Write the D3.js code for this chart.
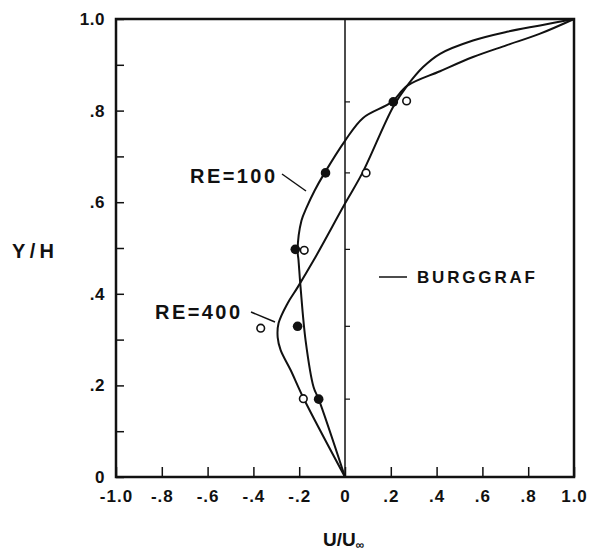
<html>
<head>
<script src="https://d3js.org/d3.v7.min.js" charset="utf-8"></script>
<style>
  body { margin:0; background:#fff; }
  svg text { font-family:"Liberation Sans", Arial, sans-serif; font-weight:bold; fill:#111; }
</style>
</head>
<body>
<div id="graph"></div>
<script>
// RE=100 curve (Burggraf), U/Uinf vs Y/H
const re100U = [0, -0.115, -0.137, -0.172, -0.194, -0.203, -0.207, -0.19, -0.168, -0.133, -0.089, 0, 0.079, 0.205, 0.271, 0.415, 0.559, 0.707, 0.852, 1];
const re100V = [0, 0.17, 0.196, 0.298, 0.414, 0.473, 0.495, 0.56, 0.588, 0.625, 0.664, 0.734, 0.784, 0.819, 0.854, 0.886, 0.917, 0.943, 0.968, 1];
// RE=400 curve
const re400U = [0, -0.181, -0.237, -0.281, -0.294, -0.29, -0.251, -0.207, -0.137, 0, 0.076, 0.21, 0.271, 0.341, 0.415, 0.559, 0.707, 0.852, 1];
const re400V = [0, 0.172, 0.233, 0.277, 0.305, 0.336, 0.379, 0.414, 0.473, 0.597, 0.664, 0.808, 0.854, 0.895, 0.924, 0.953, 0.972, 0.986, 1];
// measured points
const filledU = [-0.115, -0.207, -0.217, -0.085, 0.211];
const filledV = [0.17, 0.329, 0.497, 0.664, 0.819];
const openU = [-0.182, -0.368, -0.178, 0.092, 0.269];
const openV = [0.171, 0.325, 0.495, 0.664, 0.821];
// axis ticks
const xTicks = [-1, -0.8, -0.6, -0.4, -0.2, 0, 0.2, 0.4, 0.6, 0.8, 1];
const xTickLabels = ["-1.0", "-.8", "-.6", "-.4", "-.2", "0", ".2", ".4", ".6", ".8", "1.0"];
const yTicks = [0, 0.1, 0.2, 0.3, 0.4, 0.5, 0.6, 0.7, 0.8, 0.9, 1];
const yTickLabels = ["0", "", ".2", "", ".4", "", ".6", "", ".8", "", "1.0"];

const w = 595, h = 554;
const padL = 116, padR = 574, padT = 19, padB = 477;

const svg = d3.select('#graph').append('svg').attr('width', w).attr('height', h);

const x = d3.scaleLinear().domain([-1, 1]).range([padL, padR]);
const y = d3.scaleLinear().domain([0, 1]).range([padB, padT]);

// axes
const xAxis = d3.axisBottom(x).tickValues(xTicks)
  .tickSizeInner(-10).tickSizeOuter(0).tickPadding(13)
  .tickFormat((d, i) => xTickLabels[i]);
const gx = svg.append('g').attr('transform', 'translate(0,' + padB + ')').call(xAxis);
gx.select('.domain').remove();
gx.selectAll('line').attr('stroke', '#111').attr('stroke-width', 1.5);
gx.selectAll('text').style('font-size', '17px').style('letter-spacing', '1px').attr('fill', '#111');

const yAxis = d3.axisLeft(y).tickValues(yTicks)
  .tickSizeInner(-8).tickSizeOuter(0).tickPadding(11)
  .tickFormat((d, i) => yTickLabels[i]);
const gy = svg.append('g').attr('transform', 'translate(' + padL + ',0)').call(yAxis);
gy.select('.domain').remove();
gy.selectAll('line').attr('stroke', '#111').attr('stroke-width', 1.5);
gy.selectAll('text').style('font-size', '17px').style('letter-spacing', '0.5px').attr('fill', '#111');

// frame
svg.append('rect')
  .attr('x', padL).attr('y', padT)
  .attr('width', padR - padL).attr('height', padB - padT)
  .attr('fill', 'none').attr('stroke', '#111').attr('stroke-width', 2.5);

// zero line with station ticks
svg.append('line')
  .attr('x1', x(0)).attr('x2', x(0)).attr('y1', y(0)).attr('y2', y(1))
  .attr('stroke', '#111').attr('stroke-width', 1.5);
svg.selectAll('.stn').data(filledV).enter().append('line')
  .attr('x1', x(0)).attr('x2', x(0) + 5)
  .attr('y1', d => y(d)).attr('y2', d => y(d))
  .attr('stroke', '#111').attr('stroke-width', 1.2);

// curves
const line = d3.line().x(d => x(d[0])).y(d => y(d[1])).curve(d3.curveCatmullRom.alpha(0.5));
svg.append('path').datum(d3.zip(re100U, re100V)).attr('d', line)
  .attr('fill', 'none').attr('stroke', '#111').attr('stroke-width', 2);
svg.append('path').datum(d3.zip(re400U, re400V)).attr('d', line)
  .attr('fill', 'none').attr('stroke', '#111').attr('stroke-width', 2);

// points
svg.selectAll('.filled').data(d3.zip(filledU, filledV)).enter().append('circle')
  .attr('cx', d => x(d[0])).attr('cy', d => y(d[1])).attr('r', 4.8)
  .attr('fill', '#111');
svg.selectAll('.open').data(d3.zip(openU, openV)).enter().append('circle')
  .attr('cx', d => x(d[0])).attr('cy', d => y(d[1])).attr('r', 3.8)
  .attr('fill', '#fff').attr('stroke', '#111').attr('stroke-width', 1.6);

// annotations
svg.append('text').attr('x', 190).attr('y', 183).attr('textLength', 85)
  .style('font-size', '20px').text('RE=100');
svg.append('line').attr('x1', 282).attr('y1', 174).attr('x2', 306).attr('y2', 191)
  .attr('stroke', '#111').attr('stroke-width', 1.5);
svg.append('text').attr('x', 155).attr('y', 319).attr('textLength', 85)
  .style('font-size', '20px').text('RE=400');
svg.append('line').attr('x1', 251).attr('y1', 312).attr('x2', 275).attr('y2', 322)
  .attr('stroke', '#111').attr('stroke-width', 1.5);

// legend
svg.append('line').attr('x1', 379).attr('y1', 277).attr('x2', 407).attr('y2', 277)
  .attr('stroke', '#111').attr('stroke-width', 1.5);
svg.append('text').attr('x', 417).attr('y', 283).attr('textLength', 118)
  .style('font-size', '17px').text('BURGGRAF');

// axis titles
svg.append('text').attr('x', 12).attr('y', 258).attr('textLength', 42)
  .style('font-size', '20px').text('Y/H');
const xt = svg.append('text').attr('x', 323).attr('y', 546).style('font-size', '19px');
xt.append('tspan').text('U/U');
xt.append('tspan').attr('dy', 3).style('font-size', '12px').text('\u221e');
</script>
</body>
</html>
